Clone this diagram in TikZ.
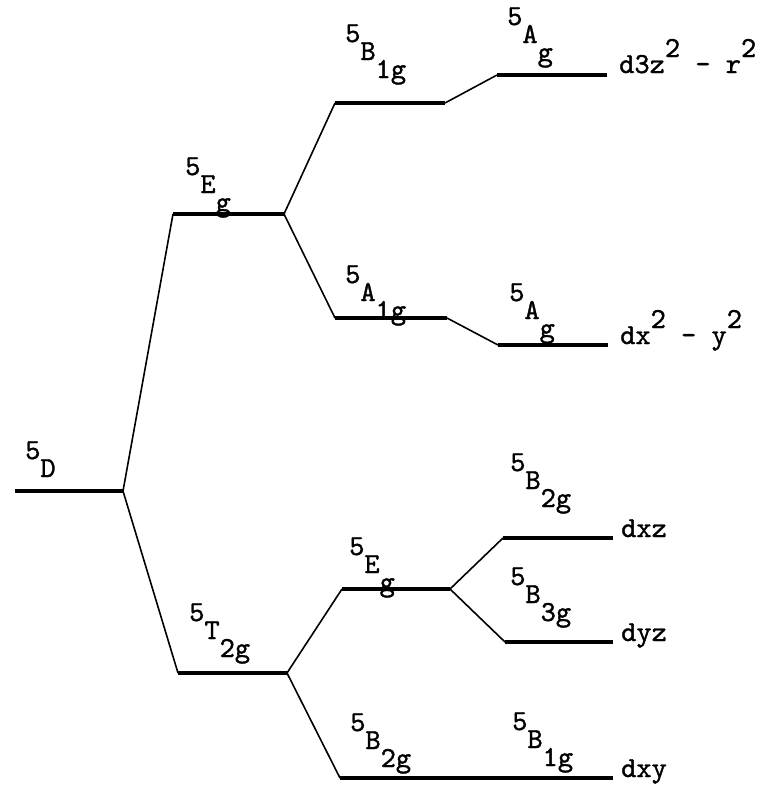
\documentclass[tikz,border=0pt]{standalone}
\usepackage{fontspec}
\newfontfamily\tw{lmmono10-regular.otf}[FakeBold=1.2]
\tikzset{
  level/.style={line width=3.6pt},
  conn/.style={line width=1.6pt},
  lbl/.style={inner sep=0pt, anchor=base west, font=\tw\fontsize{29}{32}\selectfont},
}
\newcommand\stlab[5]{\node[lbl] (#1) at (#2,#3) {5\raisebox{-18pt}{#4}\raisebox{-36pt}{#5}};}
\newcommand\sq{\raisebox{16pt}{2}}
\begin{document}
\begin{tikzpicture}[x=1pt,y=-1pt]
\useasboundingbox (0,0) rectangle (766,785);
% level coordinates
\coordinate (Dl) at (15,491);   \coordinate (Dr) at (123,491);
\coordinate (Eul) at (173,214); \coordinate (Eur) at (284,214);
\coordinate (Tl) at (178,673);  \coordinate (Tr) at (287,673);
\coordinate (Bul) at (335,103); \coordinate (Bur) at (445,103);
\coordinate (Agul) at (497,75); \coordinate (Agur) at (607,75);
\coordinate (Al) at (335,318);  \coordinate (Ar) at (447,318);
\coordinate (Agll) at (498,345);\coordinate (Aglr) at (608,345);
\coordinate (Ell) at (342,589); \coordinate (Elr) at (450,589);
\coordinate (xzl) at (503,538); \coordinate (xzr) at (613,538);
\coordinate (yzl) at (505,642); \coordinate (yzr) at (613,642);
\coordinate (xyl) at (340,778); \coordinate (xyr) at (613,778);
% levels
\foreach \a/\b in {Dl/Dr,Eul/Eur,Tl/Tr,Bul/Bur,Agul/Agur,Al/Ar,Agll/Aglr,Ell/Elr,xzl/xzr,yzl/yzr,xyl/xyr}
  \draw[level] (\a) -- (\b);
% connectors
\draw[conn] (Dr) -- (Eul);
\draw[conn] (Dr) -- (Tl);
\draw[conn] (Eur) -- (Bul);
\draw[conn] (Eur) -- (Al);
\draw[conn] (Bur) -- (Agul);
\draw[conn] (Ar) -- (Agll);
\draw[conn] (Tr) -- (Ell);
\draw[conn] (Tr) -- (xyl);
\draw[conn] (Elr) -- (xzl);
\draw[conn] (Elr) -- (yzl);
% term labels
\stlab{lD}{25}{459}{D}{}
\stlab{lEu}{185}{175}{E}{g}
\stlab{lBu}{345}{42}{B}{1g}
\stlab{lAgu}{507}{25}{A}{g}
\stlab{lA}{345}{283}{A}{1g}
\stlab{lAgl}{509}{301}{A}{g}
\stlab{lBb}{510}{471}{B}{2g}
\stlab{lEl}{349}{555}{E}{g}
\stlab{lBc}{510}{585}{B}{3g}
\stlab{lT}{189}{621}{T}{2g}
\stlab{lBl}{350}{731}{B}{2g}
\stlab{lBr}{512}{730}{B}{1g}
% orbital labels
\node[lbl] (o1) at (619,73) {d3z\sq{} - r\sq};
\node[lbl] (o2) at (620,344) {dx\sq{} - y\sq};
\node[lbl] (o3) at (621,537) {dxz};
\node[lbl] (o4) at (621,641) {dyz};
\node[lbl] (o5) at (621,777) {dxy};
\end{tikzpicture}
\end{document}
